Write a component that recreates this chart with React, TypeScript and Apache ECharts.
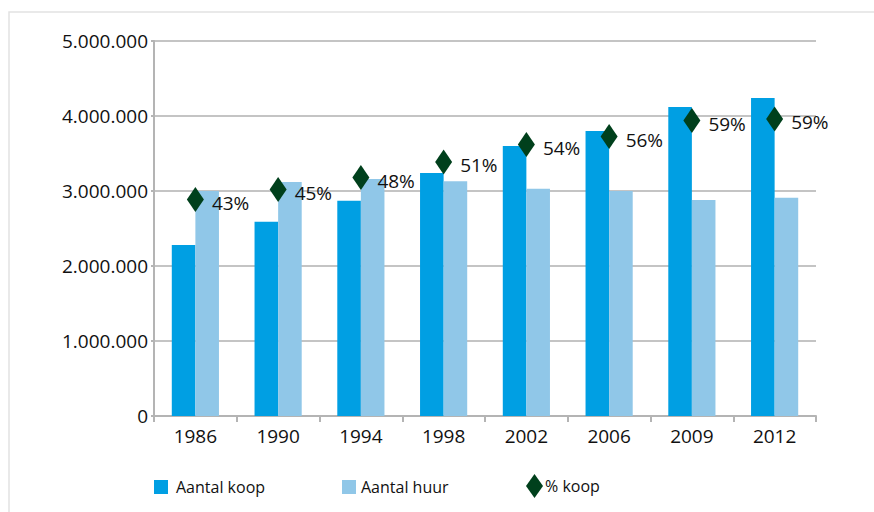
import React, { useEffect, useRef } from "react";
import * as echarts from "echarts";

const years = ["1986", "1990", "1994", "1998", "2002", "2006", "2009", "2012"];
const aantalKoop = [2280000, 2590000, 2870000, 3240000, 3600000, 3800000, 4120000, 4240000];
const aantalHuur = [3000000, 3120000, 3160000, 3130000, 3030000, 3000000, 2880000, 2910000];
const pctKoop = [43.3, 45.3, 47.7, 50.8, 54.3, 55.9, 59.1, 59.4];
const yTicks = [0, 1000000, 2000000, 3000000, 4000000, 5000000];

const FONT = "'Open Sans', 'Noto Sans', sans-serif";
const C_KOOP = "#009FE3";
const C_HUUR = "#90C7E8";
const C_PCT = "#00401C";
const TXT = "#111111";
const GRID = "#c4c4c4";

function fmt(v: number) {
  return String(v).replace(/\B(?=(\d{3})+(?!\d))/g, ".");
}

export default function App() {
  const ref = useRef<HTMLDivElement>(null);
  useEffect(() => {
    if (!ref.current) return;
    const chart = echarts.init(ref.current, null, { renderer: "svg" });
    chart.setOption({
      animation: false,
      backgroundColor: "#ffffff",
      textStyle: { fontFamily: FONT },
      graphic: [
        {
          type: "rect",
          shape: { x: 9, y: 12, width: 900, height: 600 },
          style: { fill: "none", stroke: "#e2e2e2", lineWidth: 1.5 },
          silent: true,
        },
      ],
      grid: { left: 154, right: 58, top: 41, bottom: 96, containLabel: false },
      legend: [
        {
          data: [{ name: "Aantal koop", icon: "rect" }],
          left: 149,
          top: 474,
          itemWidth: 14,
          itemHeight: 14,
          textStyle: { fontFamily: FONT, fontSize: 16, color: TXT, padding: [0, 0, 0, 3] },
          selectedMode: false,
        },
        {
          data: [{ name: "Aantal huur", icon: "rect" }],
          left: 337,
          top: 474,
          itemWidth: 14,
          itemHeight: 14,
          textStyle: { fontFamily: FONT, fontSize: 16, color: TXT },
          selectedMode: false,
        },
        {
          data: [{ name: "% koop", icon: "diamond" }],
          left: 521,
          top: 469,
          itemWidth: 17,
          itemHeight: 24,
          textStyle: { fontFamily: FONT, fontSize: 16, color: TXT, padding: [0, 0, 0, -3] },
          itemStyle: { opacity: 1 },
          selectedMode: false,
        },
      ],
      xAxis: {
        type: "category",
        data: years,
        axisLine: { show: true, lineStyle: { color: "#b4b4b4", width: 2 } },
        axisTick: { show: true, alignWithLabel: false, length: 6, lineStyle: { color: "#b4b4b4", width: 2 } },
        axisLabel: { color: TXT, fontSize: 19, fontFamily: FONT, margin: 10 },
      },
      yAxis: [
        {
          type: "value",
          min: 0,
          max: 5000000,
          interval: 1000000,
          axisLine: { show: true, lineStyle: { color: "#b4b4b4", width: 2 } },
          axisTick: { show: true, length: 3, lineStyle: { color: "#b4b4b4", width: 2 } },
          splitLine: { show: true, lineStyle: { color: GRID, width: 2 } },
          axisLabel: {
            color: TXT,
            fontSize: 19,
            fontFamily: FONT,
            margin: 6,
            formatter: (v: number) => (yTicks.includes(v) ? fmt(v) : ""),
          },
        },
        {
          type: "value",
          min: 0,
          max: 75,
          show: false,
          splitLine: { show: false },
        },
      ],
      series: [
        {
          name: "Aantal koop",
          type: "bar",
          data: aantalKoop,
          itemStyle: { color: C_KOOP },
          barGap: "0%",
          barCategoryGap: "43%",
        },
        {
          name: "Aantal huur",
          type: "bar",
          data: aantalHuur,
          itemStyle: { color: C_HUUR },
          barGap: "0%",
          barCategoryGap: "43%",
        },
        {
          name: "% koop",
          type: "scatter",
          yAxisIndex: 1,
          data: pctKoop,
          symbol: "diamond",
          symbolSize: [17, 25],
          itemStyle: { color: C_PCT, opacity: 1 },
          z: 5,
          label: {
            show: true,
            position: "right",
            distance: 8,
            offset: [0, 3],
            color: TXT,
            fontSize: 19,
            fontFamily: FONT,
            formatter: (p: any) => Math.round(p.value) + "%",
          },
        },
      ],
    });
    return () => chart.dispose();
  }, []);
  return (
    <div
      ref={ref}
      style={{ position: "fixed", left: 0, top: 0, width: 874, height: 512 }}
    />
  );
}
